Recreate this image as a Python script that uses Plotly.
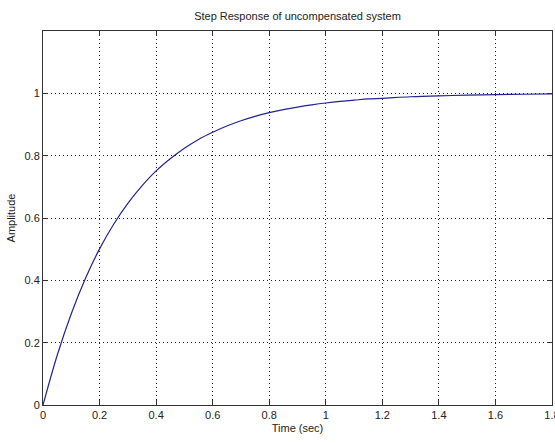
import plotly.graph_objects as go

t = [0, 0.05, 0.10, 0.15, 0.20, 0.25, 0.30, 0.35, 0.40, 0.45, 0.50, 0.55, 0.60,
     0.65, 0.70, 0.75, 0.80, 0.85, 0.90, 0.95, 1.00, 1.05, 1.10, 1.15, 1.20,
     1.30, 1.40, 1.50, 1.60, 1.70, 1.80]
amp = [0, 0.159, 0.293, 0.406, 0.501, 0.580, 0.647, 0.703, 0.751, 0.790, 0.824,
       0.852, 0.875, 0.895, 0.912, 0.926, 0.938, 0.948, 0.956, 0.963, 0.969,
       0.974, 0.978, 0.982, 0.984, 0.989, 0.992, 0.994, 0.996, 0.997, 0.998]

x_ticks = [0, 0.2, 0.4, 0.6, 0.8, 1, 1.2, 1.4, 1.6, 1.8]
x_labels = ["0", "0.2", "0.4", "0.6", "0.8", "1", "1.2", "1.4", "1.6", "1.8"]
y_ticks = [0, 0.2, 0.4, 0.6, 0.8, 1]
y_labels = ["0", "0.2", "0.4", "0.6", "0.8", "1"]

FONT = "Liberation Sans Narrow, Liberation Sans, Arial, sans-serif"

fig = go.Figure()
fig.add_trace(go.Scatter(x=t, y=amp, mode="lines",
                         line=dict(color="#23238f", width=1.2, shape="spline"),
                         showlegend=False, hoverinfo="skip"))

axis_common = dict(
    showline=True, linecolor="#333333", linewidth=1, mirror="ticks",
    ticks="inside", ticklen=5, tickcolor="#333333", tickwidth=1,
    showgrid=True, gridcolor="#222222", griddash="1px,3px", gridwidth=1,
    zeroline=False, tickfont=dict(family=FONT, size=11, color="#222222"),
    ticklabeloverflow="allow", automargin=False,
)

fig.update_xaxes(range=[0, 1.80001], tickvals=x_ticks, ticktext=x_labels,
                 title=dict(text="Time (sec)", font=dict(family=FONT, size=11, color="#222222"), standoff=4),
                 **axis_common)
fig.update_yaxes(range=[0, 1.2], tickvals=y_ticks, ticktext=y_labels,
                 title=dict(text="Amplitude", font=dict(family=FONT, size=11, color="#222222"), standoff=6),
                 **axis_common)

fig.update_layout(
    width=555, height=444,
    margin=dict(l=43, r=3, t=31, b=39),
    paper_bgcolor="white", plot_bgcolor="white",
    title=dict(text="Step Response of uncompensated system",
               font=dict(family=FONT, size=11, color="#222222"),
               x=0.536, xanchor="center", y=0.963, yanchor="middle"),
)

fig.write_html("out.html")
